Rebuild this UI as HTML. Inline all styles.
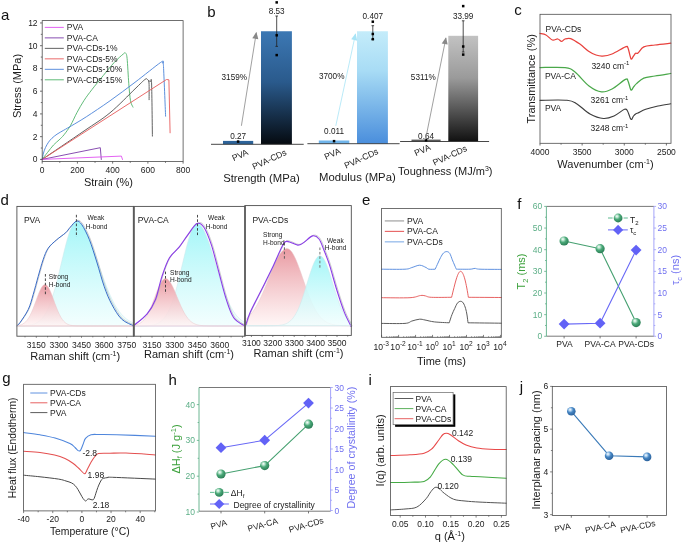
<!DOCTYPE html>
<html><head><meta charset="utf-8"><style>
html,body{margin:0;padding:0;background:#fff;width:685px;height:544px;overflow:hidden}
svg{display:block;will-change:transform}
text{font-family:"Liberation Sans", sans-serif}
</style></head><body>
<svg width="685" height="544" viewBox="0 0 685 544" font-family='"Liberation Sans", sans-serif'>
<rect width="685" height="544" fill="#fff"/>
<text x="1" y="19.5" font-size="15" text-anchor="start" fill="#111">a</text>
<path d="M42.2,159.4 C43.08,158.25 45.62,154.9 47.5,152.5 C49.38,150.1 51.58,147.08 53.5,145 C55.42,142.92 57.25,141.7 59,140 C60.75,138.3 62.08,137.22 64,134.8 C65.92,132.38 68.33,129.22 70.5,125.5 C72.67,121.78 74.75,116.67 77,112.5 C79.25,108.33 81.5,104.33 84,100.5 C86.5,96.67 88.77,93.68 92,89.5 C95.23,85.32 99.73,79.87 103.4,75.4 C107.07,70.93 110.65,66.3 114,62.7 C117.35,59.1 121.57,55.38 123.5,53.8 C125.43,52.22 125,52.42 125.6,53.2 C126.2,53.98 126.57,53.4 127.1,58.5 C127.63,63.6 128.23,76.77 128.8,83.8 C129.37,90.83 129.8,96.82 130.5,100.7 C131.2,104.58 132.58,106.03 133,107.1" fill="none" stroke="#4fb36a" stroke-width="0.9" stroke-linejoin="round" stroke-linecap="round"/>
<path d="M42.2,159.4 C42.42,158.33 42.95,154.98 43.5,153 C44.05,151.02 44.67,149.3 45.5,147.5 C46.33,145.7 47.42,143.75 48.5,142.2 C49.58,140.65 50.58,139.53 52,138.2 C53.42,136.87 55.03,135.53 57,134.2 C58.97,132.87 61.33,131.63 63.8,130.2 C66.27,128.77 68.05,127.83 71.8,125.6 C75.55,123.37 79.93,120.93 86.3,116.8 C92.67,112.67 101.88,106.55 110,100.8 C118.12,95.05 126.55,88.7 135,82.3 C143.45,75.9 156.07,65.58 160.7,62.4 C165.33,59.22 162.33,62.5 162.8,63.2 C163.27,63.9 163.03,57.77 163.5,66.6 C163.97,75.43 165.25,107.93 165.6,116.2" fill="none" stroke="#4a82d8" stroke-width="0.9" stroke-linejoin="round" stroke-linecap="round"/>
<path d="M42.2,159.4 C49.17,154.67 72.7,138.77 84,131 C95.3,123.23 101.5,119.82 110,112.8 C118.5,105.78 129.18,94.45 135,88.9 C140.82,83.35 142.83,81.07 144.9,79.5 C146.97,77.93 146.72,78.92 147.4,79.5 C148.08,80.08 148.72,79.63 149,83 C149.28,86.37 149.08,96.92 149.1,99.7" fill="none" stroke="#505050" stroke-width="0.9" stroke-linejoin="round" stroke-linecap="round"/>
<path d="M148.5,81 C148.83,81.08 149.98,81 150.5,81.5 C151.02,82 151.28,74.9 151.6,84 C151.92,93.1 152.27,127.42 152.4,136.1" fill="none" stroke="#505050" stroke-width="0.9" stroke-linejoin="round" stroke-linecap="round"/>
<path d="M42.2,159.4 L166.5,79.5 L168.9,79.8 L170.1,132.8" fill="none" stroke="#e85a5a" stroke-width="0.9" stroke-linejoin="round" stroke-linecap="round"/>
<path d="M42.2,159.4 L100.3,147.7 L101.3,159.5" fill="none" stroke="#7a3aa8" stroke-width="0.9" stroke-linejoin="round" stroke-linecap="round"/>
<path d="M42.2,159.4 L121.4,156.1 L122.5,159.5" fill="none" stroke="#e050f0" stroke-width="0.9" stroke-linejoin="round" stroke-linecap="round"/>
<line x1="44.8" y1="27.4" x2="63.8" y2="27.4" stroke="#e050f0" stroke-width="0.9"/>
<text x="66.8" y="30.4" font-size="8.5" text-anchor="start" fill="#1a1a1a">PVA</text>
<line x1="44.8" y1="37.88" x2="63.8" y2="37.88" stroke="#7a3aa8" stroke-width="0.9"/>
<text x="66.8" y="40.88" font-size="8.5" text-anchor="start" fill="#1a1a1a">PVA-CA</text>
<line x1="44.8" y1="48.36" x2="63.8" y2="48.36" stroke="#505050" stroke-width="0.9"/>
<text x="66.8" y="51.36" font-size="8.5" text-anchor="start" fill="#1a1a1a">PVA-CDs-1%</text>
<line x1="44.8" y1="58.84" x2="63.8" y2="58.84" stroke="#e85a5a" stroke-width="0.9"/>
<text x="66.8" y="61.84" font-size="8.5" text-anchor="start" fill="#1a1a1a">PVA-CDs-5%</text>
<line x1="44.8" y1="69.32" x2="63.8" y2="69.32" stroke="#4a82d8" stroke-width="0.9"/>
<text x="66.8" y="72.32" font-size="8.5" text-anchor="start" fill="#1a1a1a">PVA-CDs-10%</text>
<line x1="44.8" y1="79.8" x2="63.8" y2="79.8" stroke="#4fb36a" stroke-width="0.9"/>
<text x="66.8" y="82.8" font-size="8.5" text-anchor="start" fill="#1a1a1a">PVA-CDs-15%</text>
<rect x="42.2" y="20.6" width="140.9" height="140.8" fill="none" stroke="#4d4d4d" stroke-width="0.8"/>
<line x1="42.2" y1="161.4" x2="42.2" y2="163.6" stroke="#4d4d4d" stroke-width="0.8"/>
<text x="42.2" y="173.3" font-size="8.5" text-anchor="middle" fill="#1a1a1a">0</text>
<line x1="59.81" y1="161.4" x2="59.81" y2="162.8" stroke="#4d4d4d" stroke-width="0.8"/>
<line x1="77.42" y1="161.4" x2="77.42" y2="163.6" stroke="#4d4d4d" stroke-width="0.8"/>
<text x="77.42" y="173.3" font-size="8.5" text-anchor="middle" fill="#1a1a1a">200</text>
<line x1="95.04" y1="161.4" x2="95.04" y2="162.8" stroke="#4d4d4d" stroke-width="0.8"/>
<line x1="112.65" y1="161.4" x2="112.65" y2="163.6" stroke="#4d4d4d" stroke-width="0.8"/>
<text x="112.65" y="173.3" font-size="8.5" text-anchor="middle" fill="#1a1a1a">400</text>
<line x1="130.26" y1="161.4" x2="130.26" y2="162.8" stroke="#4d4d4d" stroke-width="0.8"/>
<line x1="147.88" y1="161.4" x2="147.88" y2="163.6" stroke="#4d4d4d" stroke-width="0.8"/>
<text x="147.88" y="173.3" font-size="8.5" text-anchor="middle" fill="#1a1a1a">600</text>
<line x1="165.49" y1="161.4" x2="165.49" y2="162.8" stroke="#4d4d4d" stroke-width="0.8"/>
<line x1="183.1" y1="161.4" x2="183.1" y2="163.6" stroke="#4d4d4d" stroke-width="0.8"/>
<text x="183.1" y="173.3" font-size="8.5" text-anchor="middle" fill="#1a1a1a">800</text>
<line x1="42.2" y1="159.4" x2="40" y2="159.4" stroke="#4d4d4d" stroke-width="0.8"/>
<text x="37.6" y="162.4" font-size="8.5" text-anchor="end" fill="#1a1a1a">0</text>
<line x1="42.2" y1="148.03" x2="40.8" y2="148.03" stroke="#4d4d4d" stroke-width="0.8"/>
<line x1="42.2" y1="136.66" x2="40" y2="136.66" stroke="#4d4d4d" stroke-width="0.8"/>
<text x="37.6" y="139.66" font-size="8.5" text-anchor="end" fill="#1a1a1a">2</text>
<line x1="42.2" y1="125.29" x2="40.8" y2="125.29" stroke="#4d4d4d" stroke-width="0.8"/>
<line x1="42.2" y1="113.92" x2="40" y2="113.92" stroke="#4d4d4d" stroke-width="0.8"/>
<text x="37.6" y="116.92" font-size="8.5" text-anchor="end" fill="#1a1a1a">4</text>
<line x1="42.2" y1="102.55" x2="40.8" y2="102.55" stroke="#4d4d4d" stroke-width="0.8"/>
<line x1="42.2" y1="91.18" x2="40" y2="91.18" stroke="#4d4d4d" stroke-width="0.8"/>
<text x="37.6" y="94.18" font-size="8.5" text-anchor="end" fill="#1a1a1a">6</text>
<line x1="42.2" y1="79.81" x2="40.8" y2="79.81" stroke="#4d4d4d" stroke-width="0.8"/>
<line x1="42.2" y1="68.44" x2="40" y2="68.44" stroke="#4d4d4d" stroke-width="0.8"/>
<text x="37.6" y="71.44" font-size="8.5" text-anchor="end" fill="#1a1a1a">8</text>
<line x1="42.2" y1="57.07" x2="40.8" y2="57.07" stroke="#4d4d4d" stroke-width="0.8"/>
<line x1="42.2" y1="45.7" x2="40" y2="45.7" stroke="#4d4d4d" stroke-width="0.8"/>
<text x="37.6" y="48.7" font-size="8.5" text-anchor="end" fill="#1a1a1a">10</text>
<line x1="42.2" y1="34.33" x2="40.8" y2="34.33" stroke="#4d4d4d" stroke-width="0.8"/>
<line x1="42.2" y1="22.96" x2="40" y2="22.96" stroke="#4d4d4d" stroke-width="0.8"/>
<text x="37.6" y="25.96" font-size="8.5" text-anchor="end" fill="#1a1a1a">12</text>
<text x="108.4" y="186" font-size="11" text-anchor="middle" fill="#1a1a1a">Strain (%)</text>
<text x="20.5" y="86" font-size="11" text-anchor="middle" fill="#1a1a1a" transform="rotate(-90 20.5 86)">Stress (MPa)</text>
<text x="207.2" y="16.9" font-size="15" text-anchor="start" fill="#111">b</text>
<defs>
<linearGradient id="gb1" x1="0" y1="0" x2="0" y2="1"><stop offset="0" stop-color="#3c78b4"/><stop offset="0.45" stop-color="#2a5a8c"/><stop offset="1" stop-color="#050a10"/></linearGradient>
<linearGradient id="gb2" x1="0" y1="0" x2="0" y2="1"><stop offset="0" stop-color="#c4ecfa"/><stop offset="0.35" stop-color="#a8dcf5"/><stop offset="1" stop-color="#4a8edc"/></linearGradient>
<linearGradient id="gb3" x1="0" y1="0" x2="0" y2="1"><stop offset="0" stop-color="#c2c2c2"/><stop offset="0.4" stop-color="#9a9a9a"/><stop offset="1" stop-color="#111"/></linearGradient>
<marker id="ah1" viewBox="0 0 10 10" refX="9" refY="5" markerWidth="12.5" markerHeight="8.5" orient="auto"><path d="M0,0.5 L10,5 L0,9.5 z" fill="#888"/></marker>
<marker id="ah2" viewBox="0 0 10 10" refX="9" refY="5" markerWidth="12.5" markerHeight="8.5" orient="auto"><path d="M0,0.5 L10,5 L0,9.5 z" fill="#a8e4f6"/></marker>
</defs>
<rect x="223" y="140.9" width="30.2" height="3.4" fill="#2d6399" stroke="none" stroke-width="1"/>
<rect x="261" y="31.25" width="30.9" height="113.05" fill="url(#gb1)" stroke="none" stroke-width="1"/>
<line x1="211" y1="144.3" x2="303.7" y2="144.3" stroke="#333" stroke-width="0.9"/>
<line x1="276.7" y1="16" x2="276.7" y2="46.4" stroke="#222" stroke-width="0.8"/>
<line x1="275.4" y1="16" x2="278" y2="16" stroke="#222" stroke-width="0.8"/>
<line x1="275.4" y1="46.4" x2="278" y2="46.4" stroke="#222" stroke-width="0.8"/>
<rect x="275.45" y="1.15" width="2.5" height="2.5" fill="#000" stroke="none" stroke-width="1"/>
<rect x="275.45" y="34.05" width="2.5" height="2.5" fill="#000" stroke="none" stroke-width="1"/>
<rect x="275.45" y="53.85" width="2.5" height="2.5" fill="#000" stroke="none" stroke-width="1"/>
<rect x="236.85" y="140.3" width="2.5" height="2.5" fill="#000" stroke="none" stroke-width="1"/>
<text x="276.7" y="14.3" font-size="8.2" text-anchor="middle" fill="#1a1a1a">8.53</text>
<text x="238.1" y="139" font-size="8.2" text-anchor="middle" fill="#1a1a1a">0.27</text>
<text x="234.3" y="80.3" font-size="8.2" text-anchor="middle" fill="#1a1a1a">3159%</text>
<line x1="241.4" y1="125.8" x2="256.3" y2="32.6" stroke="#888" stroke-width="0.8" marker-end="url(#ah1)"/>
<text x="241.27" y="157.82" font-size="8.7" text-anchor="middle" fill="#1a1a1a" transform="rotate(-25 241.27 157.82)">PVA</text>
<text x="270.67" y="162.12" font-size="8.7" text-anchor="middle" fill="#1a1a1a" transform="rotate(-25 270.67 162.12)">PVA-CDs</text>
<text x="261.5" y="182.3" font-size="11.3" text-anchor="middle" fill="#1a1a1a">Strength (MPa)</text>
<rect x="318.8" y="140.5" width="30.5" height="3.2" fill="#6fb4ea" stroke="none" stroke-width="1"/>
<rect x="357" y="31.25" width="30.9" height="112.45" fill="url(#gb2)" stroke="none" stroke-width="1"/>
<line x1="307.4" y1="143.7" x2="399.6" y2="143.7" stroke="#333" stroke-width="0.9"/>
<line x1="372.8" y1="25.7" x2="372.8" y2="39.5" stroke="#222" stroke-width="0.8"/>
<line x1="371.5" y1="25.7" x2="374.1" y2="25.7" stroke="#222" stroke-width="0.8"/>
<line x1="371.5" y1="39.5" x2="374.1" y2="39.5" stroke="#222" stroke-width="0.8"/>
<rect x="371.55" y="20.45" width="2.5" height="2.5" fill="#000" stroke="none" stroke-width="1"/>
<rect x="371.55" y="32.75" width="2.5" height="2.5" fill="#000" stroke="none" stroke-width="1"/>
<rect x="371.55" y="37.95" width="2.5" height="2.5" fill="#000" stroke="none" stroke-width="1"/>
<rect x="332.8" y="139.9" width="2.5" height="2.5" fill="#000" stroke="none" stroke-width="1"/>
<text x="372.8" y="18.9" font-size="8.2" text-anchor="middle" fill="#1a1a1a">0.407</text>
<text x="334.05" y="133.7" font-size="8.2" text-anchor="middle" fill="#1a1a1a">0.011</text>
<text x="331.7" y="79" font-size="8.2" text-anchor="middle" fill="#1a1a1a">3700%</text>
<line x1="335.8" y1="125.8" x2="355.5" y2="34" stroke="#a8e4f6" stroke-width="0.8" marker-end="url(#ah2)"/>
<text x="333.57" y="156.52" font-size="8.7" text-anchor="middle" fill="#1a1a1a" transform="rotate(-25 333.57 156.52)">PVA</text>
<text x="362.47" y="161.12" font-size="8.7" text-anchor="middle" fill="#1a1a1a" transform="rotate(-25 362.47 161.12)">PVA-CDs</text>
<text x="357.4" y="180.6" font-size="11.3" text-anchor="middle" fill="#1a1a1a">Modulus (MPa)</text>
<rect x="411.5" y="139.6" width="29.1" height="1.9" fill="#5a5a5a" stroke="none" stroke-width="1"/>
<rect x="448.3" y="35.8" width="29.8" height="105.7" fill="url(#gb3)" stroke="none" stroke-width="1"/>
<line x1="400.1" y1="141.5" x2="489.1" y2="141.5" stroke="#333" stroke-width="0.9"/>
<line x1="463.2" y1="20.8" x2="463.2" y2="52" stroke="#222" stroke-width="0.8"/>
<line x1="461.9" y1="20.8" x2="464.5" y2="20.8" stroke="#222" stroke-width="0.8"/>
<line x1="461.9" y1="52" x2="464.5" y2="52" stroke="#222" stroke-width="0.8"/>
<rect x="461.95" y="4.85" width="2.5" height="2.5" fill="#000" stroke="none" stroke-width="1"/>
<rect x="461.95" y="45.25" width="2.5" height="2.5" fill="#000" stroke="none" stroke-width="1"/>
<rect x="461.95" y="53.35" width="2.5" height="2.5" fill="#000" stroke="none" stroke-width="1"/>
<rect x="424.8" y="139" width="2.5" height="2.5" fill="#000" stroke="none" stroke-width="1"/>
<text x="463.2" y="19.3" font-size="8.2" text-anchor="middle" fill="#1a1a1a">33.99</text>
<text x="426.05" y="138.7" font-size="8.2" text-anchor="middle" fill="#1a1a1a">0.64</text>
<text x="423.3" y="80.3" font-size="8.2" text-anchor="middle" fill="#1a1a1a">5311%</text>
<line x1="425.5" y1="139.6" x2="445.9" y2="38" stroke="#888" stroke-width="0.8" marker-end="url(#ah1)"/>
<text x="423.57" y="152.82" font-size="8.7" text-anchor="middle" fill="#1a1a1a" transform="rotate(-25 423.57 152.82)">PVA</text>
<text x="451.17" y="158.12" font-size="8.7" text-anchor="middle" fill="#1a1a1a" transform="rotate(-25 451.17 158.12)">PVA-CDs</text>
<text x="445.3" y="175.2" font-size="11" text-anchor="middle" fill="#1a1a1a">Toughness (MJ/m<tspan dy="-4" font-size="7">3</tspan><tspan dy="4">)</tspan></text>
<text x="514.2" y="14.7" font-size="15" text-anchor="start" fill="#111">c</text>
<path d="M540,33.5 C541,33.75 543.95,33.92 546,35 C548.05,36.08 550.33,39.33 552.3,40 C554.27,40.67 556.27,38.77 557.8,39 C559.33,39.23 560.3,41.4 561.5,41.4 C562.7,41.4 563.47,39.47 565,39 C566.53,38.53 568.22,37.75 570.7,38.6 C573.18,39.45 576.85,41.95 579.9,44.1 C582.95,46.25 586.32,49.68 589,51.5 C591.68,53.32 593.75,54.23 596,55 C598.25,55.77 599.83,56.27 602.5,56.1 C605.17,55.93 608.18,55.53 612,54 C615.82,52.47 622.73,47.9 625.4,46.9 C628.07,45.9 627.07,46.02 628,48 C628.93,49.98 630.08,57.47 631,58.8 C631.92,60.13 632.73,56.92 633.5,56 C634.27,55.08 634.85,53.8 635.6,53.3 C636.35,52.8 636.63,54.07 638,53 C639.37,51.93 640.97,48.23 643.8,46.9 C646.63,45.57 650.52,45.62 655,45 C659.48,44.38 668.08,43.5 670.7,43.2" fill="none" stroke="#e8413c" stroke-width="1.25" stroke-linejoin="round" stroke-linecap="round"/>
<path d="M540,67.6 C544.18,67.6 559.27,66.87 565.1,67.6 C570.93,68.33 571.02,68.93 575,72 C578.98,75.07 584.58,82.68 589,86 C593.42,89.32 597.67,91.4 601.5,91.9 C605.33,92.4 608.02,91.08 612,89 C615.98,86.92 622.73,80.73 625.4,79.4 C628.07,78.07 627.07,79.23 628,81 C628.93,82.77 630.08,89 631,90 C631.92,91 632.58,88.07 633.5,87 C634.42,85.93 634.78,85.08 636.5,83.6 C638.22,82.12 640.72,79.37 643.8,78.1 C646.88,76.83 650.52,76.77 655,76 C659.48,75.23 668.08,73.92 670.7,73.5" fill="none" stroke="#4aa84a" stroke-width="1.25" stroke-linejoin="round" stroke-linecap="round"/>
<path d="M540,100.3 C544.5,100.3 560.83,99.68 567,100.3 C573.17,100.92 573.17,101.72 577,104 C580.83,106.28 585.6,111.58 590,114 C594.4,116.42 599.4,118.17 603.4,118.5 C607.4,118.83 610.48,117.53 614,116 C617.52,114.47 622.25,110.13 624.5,109.3 C626.75,108.47 626.42,109.32 627.5,111 C628.58,112.68 630,118.57 631,119.4 C632,120.23 632.73,116.92 633.5,116 C634.27,115.08 634.85,114.4 635.6,113.9 C636.35,113.4 636.32,113.77 638,113 C639.68,112.23 642.37,110.47 645.7,109.3 C649.03,108.13 653.83,106.92 658,106 C662.17,105.08 668.58,104.17 670.7,103.8" fill="none" stroke="#3d3d3d" stroke-width="1.15" stroke-linejoin="round" stroke-linecap="round"/>
<rect x="540" y="14.3" width="131" height="129" fill="none" stroke="#4d4d4d" stroke-width="0.8"/>
<line x1="666.4" y1="143.3" x2="666.4" y2="145.5" stroke="#4d4d4d" stroke-width="0.8"/>
<text x="666.4" y="154.7" font-size="8.5" text-anchor="middle" fill="#1a1a1a">2500</text>
<line x1="645.34" y1="143.3" x2="645.34" y2="144.7" stroke="#4d4d4d" stroke-width="0.8"/>
<line x1="624.27" y1="143.3" x2="624.27" y2="145.5" stroke="#4d4d4d" stroke-width="0.8"/>
<text x="624.27" y="154.7" font-size="8.5" text-anchor="middle" fill="#1a1a1a">3000</text>
<line x1="603.2" y1="143.3" x2="603.2" y2="144.7" stroke="#4d4d4d" stroke-width="0.8"/>
<line x1="582.13" y1="143.3" x2="582.13" y2="145.5" stroke="#4d4d4d" stroke-width="0.8"/>
<text x="582.13" y="154.7" font-size="8.5" text-anchor="middle" fill="#1a1a1a">3500</text>
<line x1="561.07" y1="143.3" x2="561.07" y2="144.7" stroke="#4d4d4d" stroke-width="0.8"/>
<line x1="540" y1="143.3" x2="540" y2="145.5" stroke="#4d4d4d" stroke-width="0.8"/>
<text x="540" y="154.7" font-size="8.5" text-anchor="middle" fill="#1a1a1a">4000</text>
<text x="545.6" y="32" font-size="8.5" text-anchor="start" fill="#1a1a1a">PVA-CDs</text>
<text x="544.9" y="79.2" font-size="8.5" text-anchor="start" fill="#1a1a1a">PVA-CA</text>
<text x="544.9" y="111" font-size="8.5" text-anchor="start" fill="#1a1a1a">PVA</text>
<text x="591.4" y="68.8" font-size="8.5" text-anchor="start" fill="#1a1a1a">3240 cm<tspan dy="-3.5" font-size="6">-1</tspan></text>
<text x="590.5" y="103" font-size="8.5" text-anchor="start" fill="#1a1a1a">3261 cm<tspan dy="-3.5" font-size="6">-1</tspan></text>
<text x="590.5" y="131.3" font-size="8.5" text-anchor="start" fill="#1a1a1a">3248 cm<tspan dy="-3.5" font-size="6">-1</tspan></text>
<text x="605.5" y="168" font-size="11" text-anchor="middle" fill="#1a1a1a">Wavenumber (cm<tspan dy="-4" font-size="7">-1</tspan><tspan dy="4">)</tspan></text>
<text x="534.6" y="78.8" font-size="11" text-anchor="middle" fill="#1a1a1a" transform="rotate(-90 534.6 78.8)">Transmittance (%)</text>
<text x="0.5" y="205.1" font-size="15" text-anchor="start" fill="#111">d</text>
<defs>
<linearGradient id="gr" x1="0" y1="0" x2="0" y2="1"><stop offset="0" stop-color="#e99aa2"/><stop offset="1" stop-color="#fff4f4" stop-opacity="0.8"/></linearGradient>
<linearGradient id="gc" x1="0" y1="0" x2="0" y2="1"><stop offset="0" stop-color="#a4f6f8"/><stop offset="1" stop-color="#f0fefe" stop-opacity="0.8"/></linearGradient>
</defs>
<path d="M17,325.96 L18.46,325.94 L19.92,325.91 L21.38,325.88 L22.84,325.83 L24.29,325.75 L25.75,325.66 L27.21,325.53 L28.67,325.35 L30.13,325.12 L31.59,324.82 L33.05,324.42 L34.5,323.92 L35.96,323.28 L37.42,322.48 L38.88,321.49 L40.34,320.27 L41.8,318.79 L43.26,317.02 L44.72,314.91 L46.17,312.43 L47.63,309.57 L49.09,306.28 L50.55,302.55 L52.01,298.39 L53.47,293.79 L54.93,288.78 L56.39,283.39 L57.84,277.68 L59.3,271.73 L60.76,265.62 L62.22,259.45 L63.68,253.33 L65.14,247.41 L66.6,241.8 L68.06,236.64 L69.52,232.06 L70.97,228.17 L72.43,225.08 L73.89,222.87 L75.35,221.61 L76.81,221.31 L78.27,221.65 L79.73,222.47 L81.18,223.76 L82.64,225.49 L84.1,227.65 L85.56,230.2 L87.02,233.11 L88.48,236.35 L89.94,239.88 L91.4,243.64 L92.85,247.6 L94.31,251.72 L95.77,255.94 L97.23,260.23 L98.69,264.53 L100.15,268.82 L101.61,273.06 L103.07,277.2 L104.52,281.23 L105.98,285.11 L107.44,288.83 L108.9,292.37 L110.36,295.71 L111.82,298.84 L113.28,301.76 L114.74,304.46 L116.19,306.96 L117.65,309.24 L119.11,311.31 L120.57,313.19 L122.03,314.88 L123.49,316.39 L124.95,317.73 L126.41,318.92 L127.86,319.97 L129.32,320.88 L130.78,321.68 L132.24,322.37 L133.7,322.96 L133.7,326 L17,326 Z" fill="url(#gc)" stroke="#c8e6ea" stroke-width="0.5"/>
<path d="M17,325.67 L18.46,325.46 L19.92,325.15 L21.38,324.68 L22.84,324 L24.29,323.06 L25.75,321.78 L27.21,320.12 L28.67,318 L30.13,315.4 L31.59,312.33 L33.05,308.82 L34.5,304.97 L35.96,300.93 L37.42,296.88 L38.88,293.06 L40.34,289.71 L41.8,287.04 L43.26,285.27 L44.72,284.52 L46.17,284.85 L47.63,286.24 L49.09,288.58 L50.55,291.69 L52.01,295.36 L53.47,299.34 L54.93,303.41 L56.39,307.36 L57.84,311.01 L59.3,314.26 L60.76,317.05 L62.22,319.35 L63.68,321.19 L65.14,322.61 L66.6,323.67 L68.06,324.44 L69.52,324.98 L70.97,325.36 L72.43,325.6 L73.89,325.76 L75.35,325.86 L76.81,325.92 L78.27,325.96 L79.73,325.98 L81.18,325.99 L82.64,325.99 L84.1,326 L85.56,326 L87.02,326 L88.48,326 L89.94,326 L91.4,326 L92.85,326 L94.31,326 L95.77,326 L97.23,326 L98.69,326 L100.15,326 L101.61,326 L103.07,326 L104.52,326 L105.98,326 L107.44,326 L108.9,326 L110.36,326 L111.82,326 L113.28,326 L114.74,326 L116.19,326 L117.65,326 L119.11,326 L120.57,326 L122.03,326 L123.49,326 L124.95,326 L126.41,326 L127.86,326 L129.32,326 L130.78,326 L132.24,326 L133.7,326 L133.7,326 L17,326 Z" fill="url(#gr)" stroke="#e8c4c8" stroke-width="0.5"/>
<path d="M17,325.6 C17.5,325.1 18.12,325.3 20,322.6 C21.88,319.9 26.1,314.08 28.3,309.4 C30.5,304.72 31.55,300 33.2,294.5 C34.85,289 36.55,282.18 38.2,276.4 C39.85,270.62 41.45,264.48 43.1,259.8 C44.75,255.12 45.88,251.6 48.1,248.3 C50.32,245 53.48,242.58 56.4,240 C59.32,237.42 63.33,234.88 65.6,232.8 C67.87,230.72 68.18,229.45 70,227.5 C71.82,225.55 74.52,221.55 76.5,221.1 C78.48,220.65 79.75,221.7 81.9,224.8 C84.05,227.9 86.92,233.5 89.4,239.7 C91.88,245.9 94.32,254.15 96.8,262 C99.28,269.85 101.82,279.77 104.3,286.8 C106.78,293.83 108.82,298.82 111.7,304.2 C114.58,309.58 117.88,315.47 121.6,319.1 C125.32,322.73 131.93,324.85 134,326" fill="none" stroke="#b8b8b8" stroke-width="0.7" stroke-linejoin="round" stroke-linecap="round" transform="translate(0.9,-0.7)"/>
<path d="M17,325.6 C17.5,325.1 18.12,325.3 20,322.6 C21.88,319.9 26.1,314.08 28.3,309.4 C30.5,304.72 31.55,300 33.2,294.5 C34.85,289 36.55,282.18 38.2,276.4 C39.85,270.62 41.45,264.48 43.1,259.8 C44.75,255.12 45.88,251.6 48.1,248.3 C50.32,245 53.48,242.58 56.4,240 C59.32,237.42 63.33,234.88 65.6,232.8 C67.87,230.72 68.18,229.45 70,227.5 C71.82,225.55 74.52,221.55 76.5,221.1 C78.48,220.65 79.75,221.7 81.9,224.8 C84.05,227.9 86.92,233.5 89.4,239.7 C91.88,245.9 94.32,254.15 96.8,262 C99.28,269.85 101.82,279.77 104.3,286.8 C106.78,293.83 108.82,298.82 111.7,304.2 C114.58,309.58 117.88,315.47 121.6,319.1 C125.32,322.73 131.93,324.85 134,326" fill="none" stroke="#3a6cc8" stroke-width="1" stroke-linejoin="round" stroke-linecap="round"/>
<line x1="17" y1="326" x2="133.7" y2="326" stroke="#e8c8cc" stroke-width="0.6"/>
<line x1="76.4" y1="214.8" x2="76.4" y2="236.9" stroke="#333" stroke-width="0.9" stroke-dasharray="2.6,1.8"/>
<line x1="45.4" y1="274" x2="45.4" y2="296" stroke="#333" stroke-width="0.9" stroke-dasharray="2.6,1.8"/>
<text x="23.9" y="222.8" font-size="8.5" text-anchor="start" fill="#1a1a1a">PVA</text>
<text x="87.5" y="220.2" font-size="6.6" text-anchor="start" fill="#1a1a1a">Weak</text>
<text x="85.8" y="229" font-size="6.6" text-anchor="start" fill="#1a1a1a">H-bond</text>
<text x="48.8" y="278.6" font-size="6.6" text-anchor="start" fill="#1a1a1a">Strong</text>
<text x="48.8" y="286.9" font-size="6.6" text-anchor="start" fill="#1a1a1a">H-bond</text>
<path d="M134,325.99 L135.39,325.99 L136.78,325.98 L138.16,325.97 L139.55,325.96 L140.94,325.94 L142.32,325.92 L143.71,325.88 L145.1,325.83 L146.49,325.76 L147.88,325.67 L149.26,325.55 L150.65,325.38 L152.04,325.16 L153.43,324.88 L154.81,324.51 L156.2,324.05 L157.59,323.45 L158.97,322.71 L160.36,321.79 L161.75,320.67 L163.14,319.3 L164.53,317.66 L165.91,315.72 L167.3,313.43 L168.69,310.78 L170.07,307.74 L171.46,304.29 L172.85,300.42 L174.24,296.13 L175.62,291.45 L177.01,286.4 L178.4,281.02 L179.79,275.38 L181.18,269.55 L182.56,263.62 L183.95,257.7 L185.34,251.9 L186.72,246.34 L188.11,241.14 L189.5,236.42 L190.89,232.31 L192.28,228.89 L193.66,226.28 L195.05,224.52 L196.44,223.68 L197.82,223.7 L199.21,224.33 L200.6,225.52 L201.99,227.25 L203.38,229.5 L204.76,232.23 L206.15,235.39 L207.54,238.93 L208.93,242.81 L210.31,246.96 L211.7,251.32 L213.09,255.84 L214.47,260.45 L215.86,265.11 L217.25,269.75 L218.64,274.33 L220.03,278.8 L221.41,283.13 L222.8,287.28 L224.19,291.22 L225.57,294.94 L226.96,298.41 L228.35,301.64 L229.74,304.61 L231.12,307.32 L232.51,309.78 L233.9,311.99 L235.29,313.97 L236.68,315.73 L238.06,317.28 L239.45,318.64 L240.84,319.82 L242.22,320.84 L243.61,321.72 L245,322.46 L245,326 L134,326 Z" fill="url(#gc)" stroke="#c8e6ea" stroke-width="0.5"/>
<path d="M134,325.38 L135.39,325.09 L136.78,324.71 L138.16,324.18 L139.55,323.49 L140.94,322.59 L142.32,321.45 L143.71,320.02 L145.1,318.28 L146.49,316.2 L147.88,313.77 L149.26,310.98 L150.65,307.87 L152.04,304.47 L153.43,300.87 L154.81,297.16 L156.2,293.44 L157.59,289.86 L158.97,286.56 L160.36,283.67 L161.75,281.33 L163.14,279.64 L164.53,278.7 L165.91,278.53 L167.3,279.06 L168.69,280.23 L170.07,282 L171.46,284.28 L172.85,287.01 L174.24,290.06 L175.62,293.34 L177.01,296.73 L178.4,300.13 L179.79,303.46 L181.18,306.64 L182.56,309.6 L183.95,312.3 L185.34,314.72 L186.72,316.84 L188.11,318.66 L189.5,320.21 L190.89,321.49 L192.28,322.54 L193.66,323.38 L195.05,324.04 L196.44,324.56 L197.82,324.95 L199.21,325.25 L200.6,325.47 L201.99,325.63 L203.38,325.75 L204.76,325.83 L206.15,325.89 L207.54,325.93 L208.93,325.95 L210.31,325.97 L211.7,325.98 L213.09,325.99 L214.47,325.99 L215.86,326 L217.25,326 L218.64,326 L220.03,326 L221.41,326 L222.8,326 L224.19,326 L225.57,326 L226.96,326 L228.35,326 L229.74,326 L231.12,326 L232.51,326 L233.9,326 L235.29,326 L236.68,326 L238.06,326 L239.45,326 L240.84,326 L242.22,326 L243.61,326 L245,326 L245,326 L134,326 Z" fill="url(#gr)" stroke="#e8c4c8" stroke-width="0.5"/>
<path d="M133.2,326 C135.48,324.02 143.17,318.57 146.9,314.1 C150.63,309.63 153.12,305.4 155.6,299.2 C158.08,293 159.53,283.72 161.8,276.9 C164.07,270.08 166.32,263.25 169.2,258.3 C172.08,253.35 176,251.12 179.1,247.2 C182.2,243.28 184.82,238.73 187.8,234.8 C190.78,230.87 194.32,224.85 197,223.6 C199.68,222.35 201.52,223.78 203.9,227.3 C206.28,230.82 208.82,237.25 211.3,244.7 C213.78,252.15 216.32,262.92 218.8,272 C221.28,281.08 223.72,291.57 226.2,299.2 C228.68,306.83 230.6,313.33 233.7,317.8 C236.8,322.27 242.95,324.63 244.8,326" fill="none" stroke="#b8b8b8" stroke-width="0.7" stroke-linejoin="round" stroke-linecap="round" transform="translate(0.9,-0.7)"/>
<path d="M133.2,326 C135.48,324.02 143.17,318.57 146.9,314.1 C150.63,309.63 153.12,305.4 155.6,299.2 C158.08,293 159.53,283.72 161.8,276.9 C164.07,270.08 166.32,263.25 169.2,258.3 C172.08,253.35 176,251.12 179.1,247.2 C182.2,243.28 184.82,238.73 187.8,234.8 C190.78,230.87 194.32,224.85 197,223.6 C199.68,222.35 201.52,223.78 203.9,227.3 C206.28,230.82 208.82,237.25 211.3,244.7 C213.78,252.15 216.32,262.92 218.8,272 C221.28,281.08 223.72,291.57 226.2,299.2 C228.68,306.83 230.6,313.33 233.7,317.8 C236.8,322.27 242.95,324.63 244.8,326" fill="none" stroke="#8a3ce8" stroke-width="1.1" stroke-linejoin="round" stroke-linecap="round"/>
<line x1="134" y1="326" x2="245" y2="326" stroke="#e0d0e8" stroke-width="0.6"/>
<line x1="197.5" y1="214.9" x2="197.5" y2="236.9" stroke="#333" stroke-width="0.9" stroke-dasharray="2.6,1.8"/>
<line x1="165.5" y1="271.6" x2="165.5" y2="293.7" stroke="#333" stroke-width="0.9" stroke-dasharray="2.6,1.8"/>
<text x="137.7" y="222.8" font-size="8.5" text-anchor="start" fill="#1a1a1a">PVA-CA</text>
<text x="208.1" y="220.4" font-size="6.6" text-anchor="start" fill="#1a1a1a">Weak</text>
<text x="205.7" y="228.5" font-size="6.6" text-anchor="start" fill="#1a1a1a">H-bond</text>
<text x="170" y="274.6" font-size="6.6" text-anchor="start" fill="#1a1a1a">Strong</text>
<text x="170" y="282.3" font-size="6.6" text-anchor="start" fill="#1a1a1a">H-bond</text>
<path d="M245.5,319.56 L246.82,318.5 L248.15,317.29 L249.47,315.93 L250.8,314.42 L252.12,312.74 L253.45,310.89 L254.78,308.87 L256.1,306.67 L257.43,304.29 L258.75,301.74 L260.07,299.03 L261.4,296.16 L262.73,293.16 L264.05,290.04 L265.38,286.81 L266.7,283.52 L268.02,280.18 L269.35,276.83 L270.68,273.5 L272,270.23 L273.32,267.06 L274.65,264.02 L275.98,261.16 L277.3,258.51 L278.62,256.12 L279.95,254.01 L281.27,252.21 L282.6,250.75 L283.93,249.66 L285.25,248.94 L286.57,248.62 L287.9,248.72 L289.23,249.34 L290.55,250.48 L291.88,252.1 L293.2,254.18 L294.52,256.68 L295.85,259.55 L297.18,262.73 L298.5,266.17 L299.82,269.81 L301.15,273.59 L302.48,277.44 L303.8,281.32 L305.12,285.16 L306.45,288.93 L307.77,292.57 L309.1,296.06 L310.43,299.37 L311.75,302.46 L313.07,305.34 L314.4,307.98 L315.73,310.39 L317.05,312.57 L318.38,314.51 L319.7,316.24 L321.02,317.75 L322.35,319.08 L323.68,320.22 L325,321.2 L326.32,322.03 L327.65,322.74 L328.98,323.33 L330.3,323.82 L331.62,324.22 L332.95,324.55 L334.27,324.82 L335.6,325.03 L336.93,325.21 L338.25,325.34 L339.57,325.45 L340.9,325.53 L342.23,325.6 L343.55,325.65 L344.88,325.69 L346.2,325.72 L347.52,325.74 L348.85,325.76 L350.18,325.77 L351.5,325.78 L351.5,325.8 L245.5,325.8 Z" fill="url(#gr)" stroke="#e8c4c8" stroke-width="0.5"/>
<path d="M245.5,325.8 L246.82,325.8 L248.15,325.8 L249.47,325.8 L250.8,325.8 L252.12,325.8 L253.45,325.8 L254.78,325.8 L256.1,325.8 L257.43,325.8 L258.75,325.8 L260.07,325.8 L261.4,325.8 L262.73,325.8 L264.05,325.79 L265.38,325.79 L266.7,325.79 L268.02,325.78 L269.35,325.77 L270.68,325.76 L272,325.74 L273.32,325.71 L274.65,325.66 L275.98,325.61 L277.3,325.52 L278.62,325.41 L279.95,325.26 L281.27,325.06 L282.6,324.8 L283.93,324.45 L285.25,324.01 L286.57,323.44 L287.9,322.72 L289.23,321.84 L290.55,320.75 L291.88,319.43 L293.2,317.85 L294.52,315.99 L295.85,313.82 L297.18,311.32 L298.5,308.5 L299.82,305.34 L301.15,301.86 L302.48,298.09 L303.8,294.06 L305.12,289.84 L306.45,285.5 L307.77,281.11 L309.1,276.76 L310.43,272.58 L311.75,268.64 L313.07,265.08 L314.4,261.97 L315.73,259.43 L317.05,257.51 L318.38,256.3 L319.7,255.81 L321.02,256.07 L322.35,257.07 L323.68,258.78 L325,261.14 L326.32,264.09 L327.65,267.52 L328.98,271.36 L330.3,275.48 L331.62,279.79 L332.95,284.17 L334.27,288.54 L335.6,292.81 L336.93,296.9 L338.25,300.75 L339.57,304.32 L340.9,307.58 L342.23,310.51 L343.55,313.1 L344.88,315.37 L346.2,317.32 L347.52,318.98 L348.85,320.38 L350.18,321.53 L351.5,322.48 L351.5,325.8 L245.5,325.8 Z" fill="url(#gc)" stroke="#c8e6ea" stroke-width="0.5"/>
<path d="M245.5,326 C246.25,323.78 247.42,318.58 250,312.7 C252.58,306.82 257.33,298.05 261,290.7 C264.67,283.35 268.78,275.35 272,268.6 C275.22,261.85 278.15,254.63 280.3,250.2 C282.45,245.77 283.37,243.37 284.9,242 C286.43,240.63 287.35,241.48 289.5,242 C291.65,242.52 295.5,244.95 297.8,245.1 C300.1,245.25 300.85,244.43 303.3,242.9 C305.75,241.37 309.88,236.55 312.5,235.9 C315.12,235.25 317.1,236.65 319,239 C320.9,241.35 322.17,245.72 323.9,250 C325.63,254.28 327.25,258.03 329.4,264.7 C331.55,271.37 334.35,282.18 336.8,290 C339.25,297.82 341.72,305.52 344.1,311.6 C346.48,317.68 349.93,324.02 351.1,326.5" fill="none" stroke="#b8b8b8" stroke-width="0.7" stroke-linejoin="round" stroke-linecap="round" transform="translate(0.9,-0.7)"/>
<path d="M245.5,326 C246.25,323.78 247.42,318.58 250,312.7 C252.58,306.82 257.33,298.05 261,290.7 C264.67,283.35 268.78,275.35 272,268.6 C275.22,261.85 278.15,254.63 280.3,250.2 C282.45,245.77 283.37,243.37 284.9,242 C286.43,240.63 287.35,241.48 289.5,242 C291.65,242.52 295.5,244.95 297.8,245.1 C300.1,245.25 300.85,244.43 303.3,242.9 C305.75,241.37 309.88,236.55 312.5,235.9 C315.12,235.25 317.1,236.65 319,239 C320.9,241.35 322.17,245.72 323.9,250 C325.63,254.28 327.25,258.03 329.4,264.7 C331.55,271.37 334.35,282.18 336.8,290 C339.25,297.82 341.72,305.52 344.1,311.6 C346.48,317.68 349.93,324.02 351.1,326.5" fill="none" stroke="#8a3ce8" stroke-width="1.1" stroke-linejoin="round" stroke-linecap="round"/>
<line x1="245.5" y1="325.5" x2="351.5" y2="325.5" stroke="#d8eef0" stroke-width="0.6"/>
<line x1="284.4" y1="242.9" x2="284.4" y2="260.3" stroke="#555" stroke-width="0.9" stroke-dasharray="2.6,1.8"/>
<line x1="319.9" y1="247.5" x2="319.9" y2="267.7" stroke="#777" stroke-width="1" stroke-dasharray="2.6,1.8"/>
<text x="252.4" y="222.8" font-size="8.5" text-anchor="start" fill="#1a1a1a">PVA-CDs</text>
<text x="263" y="236.9" font-size="6.6" text-anchor="start" fill="#1a1a1a">Strong</text>
<text x="263" y="244.6" font-size="6.6" text-anchor="start" fill="#1a1a1a">H-bond</text>
<text x="327" y="242.7" font-size="6.6" text-anchor="start" fill="#1a1a1a">Weak</text>
<text x="324.8" y="250.4" font-size="6.6" text-anchor="start" fill="#1a1a1a">H-bond</text>
<rect x="16.9" y="206.4" width="116.8" height="129.8" fill="none" stroke="#4d4d4d" stroke-width="0.9"/>
<rect x="133.7" y="206.4" width="111.3" height="129.8" fill="none" stroke="#4d4d4d" stroke-width="0.9"/>
<rect x="245" y="205.6" width="106.3" height="129.8" fill="none" stroke="#4d4d4d" stroke-width="0.9"/>
<line x1="133.8" y1="206.4" x2="133.8" y2="336.2" stroke="#5a5a5a" stroke-width="1.9"/>
<line x1="245" y1="205.6" x2="245" y2="336.2" stroke="#5a5a5a" stroke-width="1.3"/>
<line x1="25" y1="336.2" x2="25" y2="337.4" stroke="#4d4d4d" stroke-width="0.7"/>
<line x1="36.3" y1="336.2" x2="36.3" y2="337.8" stroke="#4d4d4d" stroke-width="0.7"/>
<line x1="47.6" y1="336.2" x2="47.6" y2="337.4" stroke="#4d4d4d" stroke-width="0.7"/>
<line x1="58.9" y1="336.2" x2="58.9" y2="337.8" stroke="#4d4d4d" stroke-width="0.7"/>
<line x1="70.2" y1="336.2" x2="70.2" y2="337.4" stroke="#4d4d4d" stroke-width="0.7"/>
<line x1="81.5" y1="336.2" x2="81.5" y2="337.8" stroke="#4d4d4d" stroke-width="0.7"/>
<line x1="92.8" y1="336.2" x2="92.8" y2="337.4" stroke="#4d4d4d" stroke-width="0.7"/>
<line x1="104.1" y1="336.2" x2="104.1" y2="337.8" stroke="#4d4d4d" stroke-width="0.7"/>
<line x1="115.4" y1="336.2" x2="115.4" y2="337.4" stroke="#4d4d4d" stroke-width="0.7"/>
<line x1="126.7" y1="336.2" x2="126.7" y2="337.8" stroke="#4d4d4d" stroke-width="0.7"/>
<line x1="140.7" y1="336.2" x2="140.7" y2="337.4" stroke="#4d4d4d" stroke-width="0.7"/>
<line x1="152" y1="336.2" x2="152" y2="337.8" stroke="#4d4d4d" stroke-width="0.7"/>
<line x1="163.3" y1="336.2" x2="163.3" y2="337.4" stroke="#4d4d4d" stroke-width="0.7"/>
<line x1="174.6" y1="336.2" x2="174.6" y2="337.8" stroke="#4d4d4d" stroke-width="0.7"/>
<line x1="185.9" y1="336.2" x2="185.9" y2="337.4" stroke="#4d4d4d" stroke-width="0.7"/>
<line x1="197.2" y1="336.2" x2="197.2" y2="337.8" stroke="#4d4d4d" stroke-width="0.7"/>
<line x1="208.5" y1="336.2" x2="208.5" y2="337.4" stroke="#4d4d4d" stroke-width="0.7"/>
<line x1="219.8" y1="336.2" x2="219.8" y2="337.8" stroke="#4d4d4d" stroke-width="0.7"/>
<line x1="231.1" y1="336.2" x2="231.1" y2="337.4" stroke="#4d4d4d" stroke-width="0.7"/>
<line x1="242.4" y1="336.2" x2="242.4" y2="337.8" stroke="#4d4d4d" stroke-width="0.7"/>
<text x="36.3" y="348.1" font-size="8.5" text-anchor="middle" fill="#1a1a1a">3150</text>
<text x="58.9" y="348.1" font-size="8.5" text-anchor="middle" fill="#1a1a1a">3300</text>
<text x="81.5" y="348.1" font-size="8.5" text-anchor="middle" fill="#1a1a1a">3450</text>
<text x="104.1" y="348.1" font-size="8.5" text-anchor="middle" fill="#1a1a1a">3600</text>
<text x="126.7" y="348.1" font-size="8.5" text-anchor="middle" fill="#1a1a1a">3750</text>
<text x="152" y="348.1" font-size="8.5" text-anchor="middle" fill="#1a1a1a">3150</text>
<text x="174.6" y="348.1" font-size="8.5" text-anchor="middle" fill="#1a1a1a">3300</text>
<text x="197.2" y="348.1" font-size="8.5" text-anchor="middle" fill="#1a1a1a">3450</text>
<text x="219.8" y="348.1" font-size="8.5" text-anchor="middle" fill="#1a1a1a">3600</text>
<line x1="251.4" y1="335.4" x2="251.4" y2="337" stroke="#4d4d4d" stroke-width="0.7"/>
<line x1="262.1" y1="335.4" x2="262.1" y2="336.6" stroke="#4d4d4d" stroke-width="0.7"/>
<line x1="272.8" y1="335.4" x2="272.8" y2="337" stroke="#4d4d4d" stroke-width="0.7"/>
<line x1="283.5" y1="335.4" x2="283.5" y2="336.6" stroke="#4d4d4d" stroke-width="0.7"/>
<line x1="294.2" y1="335.4" x2="294.2" y2="337" stroke="#4d4d4d" stroke-width="0.7"/>
<line x1="304.9" y1="335.4" x2="304.9" y2="336.6" stroke="#4d4d4d" stroke-width="0.7"/>
<line x1="315.6" y1="335.4" x2="315.6" y2="337" stroke="#4d4d4d" stroke-width="0.7"/>
<line x1="326.3" y1="335.4" x2="326.3" y2="336.6" stroke="#4d4d4d" stroke-width="0.7"/>
<line x1="337" y1="335.4" x2="337" y2="337" stroke="#4d4d4d" stroke-width="0.7"/>
<line x1="347.7" y1="335.4" x2="347.7" y2="336.6" stroke="#4d4d4d" stroke-width="0.7"/>
<text x="251.4" y="346.4" font-size="8.5" text-anchor="middle" fill="#1a1a1a">3100</text>
<text x="272.8" y="346.4" font-size="8.5" text-anchor="middle" fill="#1a1a1a">3200</text>
<text x="294.2" y="346.4" font-size="8.5" text-anchor="middle" fill="#1a1a1a">3300</text>
<text x="315.6" y="346.4" font-size="8.5" text-anchor="middle" fill="#1a1a1a">3400</text>
<text x="337" y="346.4" font-size="8.5" text-anchor="middle" fill="#1a1a1a">3500</text>
<text x="75.2" y="360.4" font-size="11" text-anchor="middle" fill="#1a1a1a">Raman shift (cm<tspan dy="-4" font-size="7">-1</tspan><tspan dy="4">)</tspan></text>
<text x="189" y="357.9" font-size="11" text-anchor="middle" fill="#1a1a1a">Raman shift (cm<tspan dy="-4" font-size="7">-1</tspan><tspan dy="4">)</tspan></text>
<text x="298.5" y="356.9" font-size="11" text-anchor="middle" fill="#1a1a1a">Raman shift (cm<tspan dy="-4" font-size="7">-1</tspan><tspan dy="4">)</tspan></text>
<text x="362" y="205.1" font-size="15" text-anchor="start" fill="#111">e</text>
<path d="M381.6,269.2 C385.5,269.2 399.93,269.48 405,269.2 C410.07,268.92 409.55,268.17 412,267.5 C414.45,266.83 417.37,265.2 419.7,265.2 C422.03,265.2 424.47,266.83 426,267.5 C427.53,268.17 427.37,268.92 428.9,269.2 C430.43,269.48 434.15,269.2 435.2,269.2 L435.2,269.2 C435.67,268.17 437.1,264.95 438,263 C438.9,261.05 439.68,259.17 440.6,257.5 C441.52,255.83 442.45,253.98 443.5,253 C444.55,252.02 445.85,251.52 446.9,251.6 C447.95,251.68 448.9,252.13 449.8,253.5 C450.7,254.87 451.52,257.88 452.3,259.8 C453.08,261.72 453.83,263.43 454.5,265 C455.17,266.57 456,268.5 456.3,269.2 L456.3,269.2 C458.58,269.2 466.88,269.33 470,269.2 C473.12,269.07 473.33,268.4 475,268.4 C476.67,268.4 475.62,269.03 480,269.2 C484.38,269.37 497.75,269.37 501.3,269.4" fill="none" stroke="#4f86dc" stroke-width="0.9" stroke-linejoin="round" stroke-linecap="round"/>
<path d="M381.6,297.7 C386.33,297.7 403.52,298.07 410,297.7 C416.48,297.33 418,295.82 420.5,295.5 C423,295.18 423.2,295.5 425,295.8 C426.8,296.1 426.87,297.05 431.3,297.3 C435.73,297.55 448.22,297.3 451.6,297.3 L451.6,297.3 C452,295.67 453.22,290.55 454,287.5 C454.78,284.45 455.55,281.37 456.3,279 C457.05,276.63 457.78,274.58 458.5,273.3 C459.22,272.02 459.9,271.3 460.6,271.3 C461.3,271.3 462,272.02 462.7,273.3 C463.4,274.58 464.12,276.55 464.8,279 C465.48,281.45 466.2,284.95 466.8,288 C467.4,291.05 468.13,295.75 468.4,297.3 L468.4,297.3 C473.88,297.33 495.82,297.47 501.3,297.5" fill="none" stroke="#e45050" stroke-width="0.9" stroke-linejoin="round" stroke-linecap="round"/>
<path d="M381.6,323.4 C385.5,323.4 399.93,323.8 405,323.4 C410.07,323 409.57,321.7 412,321 C414.43,320.3 417.43,319.37 419.6,319.2 C421.77,319.03 422.53,319.55 425,320 C427.47,320.45 430.37,321.43 434.4,321.9 C438.43,322.37 446.73,322.65 449.2,322.8 L449.2,322.8 C449.67,321.42 451.08,316.88 452,314.5 C452.92,312.12 453.78,310.42 454.7,308.5 C455.62,306.58 456.52,304.2 457.5,303 C458.48,301.8 459.63,301.3 460.6,301.3 C461.57,301.3 462.47,301.8 463.3,303 C464.13,304.2 464.98,306.5 465.6,308.5 C466.22,310.5 466.6,312.62 467,315 C467.4,317.38 467.83,321.5 468,322.8 L468,322.8 C473.55,322.87 495.75,323.13 501.3,323.2" fill="none" stroke="#4a4a4a" stroke-width="0.9" stroke-linejoin="round" stroke-linecap="round"/>
<line x1="384.8" y1="220.9" x2="404.1" y2="220.9" stroke="#b4b4b4" stroke-width="1.5"/>
<text x="406.9" y="224" font-size="8.5" text-anchor="start" fill="#1a1a1a">PVA</text>
<line x1="384.8" y1="231.35" x2="404.1" y2="231.35" stroke="#e45050" stroke-width="1"/>
<text x="406.9" y="234.45" font-size="8.5" text-anchor="start" fill="#1a1a1a">PVA-CA</text>
<line x1="384.8" y1="241.8" x2="404.1" y2="241.8" stroke="#a4c4ee" stroke-width="1.5"/>
<text x="406.9" y="244.9" font-size="8.5" text-anchor="start" fill="#1a1a1a">PVA-CDs</text>
<rect x="381.6" y="208.4" width="119.7" height="128.9" fill="none" stroke="#4d4d4d" stroke-width="0.8"/>
<line x1="381.6" y1="337.3" x2="381.6" y2="334.9" stroke="#4d4d4d" stroke-width="0.7"/>
<line x1="386.71" y1="337.3" x2="386.71" y2="336" stroke="#4d4d4d" stroke-width="0.5"/>
<line x1="389.7" y1="337.3" x2="389.7" y2="336" stroke="#4d4d4d" stroke-width="0.5"/>
<line x1="391.82" y1="337.3" x2="391.82" y2="336" stroke="#4d4d4d" stroke-width="0.5"/>
<line x1="393.47" y1="337.3" x2="393.47" y2="336" stroke="#4d4d4d" stroke-width="0.5"/>
<line x1="394.81" y1="337.3" x2="394.81" y2="336" stroke="#4d4d4d" stroke-width="0.5"/>
<line x1="395.95" y1="337.3" x2="395.95" y2="336" stroke="#4d4d4d" stroke-width="0.5"/>
<line x1="396.93" y1="337.3" x2="396.93" y2="336" stroke="#4d4d4d" stroke-width="0.5"/>
<line x1="397.8" y1="337.3" x2="397.8" y2="336" stroke="#4d4d4d" stroke-width="0.5"/>
<text x="381.1" y="349.6" font-size="8.6" text-anchor="middle" fill="#1a1a1a">10<tspan dy="-3.8" font-size="6.6">-3</tspan></text>
<line x1="398.58" y1="337.3" x2="398.58" y2="334.9" stroke="#4d4d4d" stroke-width="0.7"/>
<line x1="403.69" y1="337.3" x2="403.69" y2="336" stroke="#4d4d4d" stroke-width="0.5"/>
<line x1="406.68" y1="337.3" x2="406.68" y2="336" stroke="#4d4d4d" stroke-width="0.5"/>
<line x1="408.8" y1="337.3" x2="408.8" y2="336" stroke="#4d4d4d" stroke-width="0.5"/>
<line x1="410.45" y1="337.3" x2="410.45" y2="336" stroke="#4d4d4d" stroke-width="0.5"/>
<line x1="411.79" y1="337.3" x2="411.79" y2="336" stroke="#4d4d4d" stroke-width="0.5"/>
<line x1="412.93" y1="337.3" x2="412.93" y2="336" stroke="#4d4d4d" stroke-width="0.5"/>
<line x1="413.91" y1="337.3" x2="413.91" y2="336" stroke="#4d4d4d" stroke-width="0.5"/>
<line x1="414.78" y1="337.3" x2="414.78" y2="336" stroke="#4d4d4d" stroke-width="0.5"/>
<text x="398.08" y="349.6" font-size="8.6" text-anchor="middle" fill="#1a1a1a">10<tspan dy="-3.8" font-size="6.6">-2</tspan></text>
<line x1="415.56" y1="337.3" x2="415.56" y2="334.9" stroke="#4d4d4d" stroke-width="0.7"/>
<line x1="420.67" y1="337.3" x2="420.67" y2="336" stroke="#4d4d4d" stroke-width="0.5"/>
<line x1="423.66" y1="337.3" x2="423.66" y2="336" stroke="#4d4d4d" stroke-width="0.5"/>
<line x1="425.78" y1="337.3" x2="425.78" y2="336" stroke="#4d4d4d" stroke-width="0.5"/>
<line x1="427.43" y1="337.3" x2="427.43" y2="336" stroke="#4d4d4d" stroke-width="0.5"/>
<line x1="428.77" y1="337.3" x2="428.77" y2="336" stroke="#4d4d4d" stroke-width="0.5"/>
<line x1="429.91" y1="337.3" x2="429.91" y2="336" stroke="#4d4d4d" stroke-width="0.5"/>
<line x1="430.89" y1="337.3" x2="430.89" y2="336" stroke="#4d4d4d" stroke-width="0.5"/>
<line x1="431.76" y1="337.3" x2="431.76" y2="336" stroke="#4d4d4d" stroke-width="0.5"/>
<text x="415.06" y="349.6" font-size="8.6" text-anchor="middle" fill="#1a1a1a">10<tspan dy="-3.8" font-size="6.6">-1</tspan></text>
<line x1="432.54" y1="337.3" x2="432.54" y2="334.9" stroke="#4d4d4d" stroke-width="0.7"/>
<line x1="437.65" y1="337.3" x2="437.65" y2="336" stroke="#4d4d4d" stroke-width="0.5"/>
<line x1="440.64" y1="337.3" x2="440.64" y2="336" stroke="#4d4d4d" stroke-width="0.5"/>
<line x1="442.76" y1="337.3" x2="442.76" y2="336" stroke="#4d4d4d" stroke-width="0.5"/>
<line x1="444.41" y1="337.3" x2="444.41" y2="336" stroke="#4d4d4d" stroke-width="0.5"/>
<line x1="445.75" y1="337.3" x2="445.75" y2="336" stroke="#4d4d4d" stroke-width="0.5"/>
<line x1="446.89" y1="337.3" x2="446.89" y2="336" stroke="#4d4d4d" stroke-width="0.5"/>
<line x1="447.87" y1="337.3" x2="447.87" y2="336" stroke="#4d4d4d" stroke-width="0.5"/>
<line x1="448.74" y1="337.3" x2="448.74" y2="336" stroke="#4d4d4d" stroke-width="0.5"/>
<text x="432.04" y="349.6" font-size="8.6" text-anchor="middle" fill="#1a1a1a">10<tspan dy="-3.8" font-size="6.6">0</tspan></text>
<line x1="449.52" y1="337.3" x2="449.52" y2="334.9" stroke="#4d4d4d" stroke-width="0.7"/>
<line x1="454.63" y1="337.3" x2="454.63" y2="336" stroke="#4d4d4d" stroke-width="0.5"/>
<line x1="457.62" y1="337.3" x2="457.62" y2="336" stroke="#4d4d4d" stroke-width="0.5"/>
<line x1="459.74" y1="337.3" x2="459.74" y2="336" stroke="#4d4d4d" stroke-width="0.5"/>
<line x1="461.39" y1="337.3" x2="461.39" y2="336" stroke="#4d4d4d" stroke-width="0.5"/>
<line x1="462.73" y1="337.3" x2="462.73" y2="336" stroke="#4d4d4d" stroke-width="0.5"/>
<line x1="463.87" y1="337.3" x2="463.87" y2="336" stroke="#4d4d4d" stroke-width="0.5"/>
<line x1="464.85" y1="337.3" x2="464.85" y2="336" stroke="#4d4d4d" stroke-width="0.5"/>
<line x1="465.72" y1="337.3" x2="465.72" y2="336" stroke="#4d4d4d" stroke-width="0.5"/>
<text x="449.02" y="349.6" font-size="8.6" text-anchor="middle" fill="#1a1a1a">10<tspan dy="-3.8" font-size="6.6">1</tspan></text>
<line x1="466.5" y1="337.3" x2="466.5" y2="334.9" stroke="#4d4d4d" stroke-width="0.7"/>
<line x1="471.61" y1="337.3" x2="471.61" y2="336" stroke="#4d4d4d" stroke-width="0.5"/>
<line x1="474.6" y1="337.3" x2="474.6" y2="336" stroke="#4d4d4d" stroke-width="0.5"/>
<line x1="476.72" y1="337.3" x2="476.72" y2="336" stroke="#4d4d4d" stroke-width="0.5"/>
<line x1="478.37" y1="337.3" x2="478.37" y2="336" stroke="#4d4d4d" stroke-width="0.5"/>
<line x1="479.71" y1="337.3" x2="479.71" y2="336" stroke="#4d4d4d" stroke-width="0.5"/>
<line x1="480.85" y1="337.3" x2="480.85" y2="336" stroke="#4d4d4d" stroke-width="0.5"/>
<line x1="481.83" y1="337.3" x2="481.83" y2="336" stroke="#4d4d4d" stroke-width="0.5"/>
<line x1="482.7" y1="337.3" x2="482.7" y2="336" stroke="#4d4d4d" stroke-width="0.5"/>
<text x="466" y="349.6" font-size="8.6" text-anchor="middle" fill="#1a1a1a">10<tspan dy="-3.8" font-size="6.6">2</tspan></text>
<line x1="483.48" y1="337.3" x2="483.48" y2="334.9" stroke="#4d4d4d" stroke-width="0.7"/>
<line x1="488.59" y1="337.3" x2="488.59" y2="336" stroke="#4d4d4d" stroke-width="0.5"/>
<line x1="491.58" y1="337.3" x2="491.58" y2="336" stroke="#4d4d4d" stroke-width="0.5"/>
<line x1="493.7" y1="337.3" x2="493.7" y2="336" stroke="#4d4d4d" stroke-width="0.5"/>
<line x1="495.35" y1="337.3" x2="495.35" y2="336" stroke="#4d4d4d" stroke-width="0.5"/>
<line x1="496.69" y1="337.3" x2="496.69" y2="336" stroke="#4d4d4d" stroke-width="0.5"/>
<line x1="497.83" y1="337.3" x2="497.83" y2="336" stroke="#4d4d4d" stroke-width="0.5"/>
<line x1="498.81" y1="337.3" x2="498.81" y2="336" stroke="#4d4d4d" stroke-width="0.5"/>
<line x1="499.68" y1="337.3" x2="499.68" y2="336" stroke="#4d4d4d" stroke-width="0.5"/>
<text x="482.98" y="349.6" font-size="8.6" text-anchor="middle" fill="#1a1a1a">10<tspan dy="-3.8" font-size="6.6">3</tspan></text>
<line x1="500.46" y1="337.3" x2="500.46" y2="334.9" stroke="#4d4d4d" stroke-width="0.7"/>
<text x="499.96" y="349.6" font-size="8.6" text-anchor="middle" fill="#1a1a1a">10<tspan dy="-3.8" font-size="6.6">4</tspan></text>
<text x="441.5" y="364.5" font-size="11" text-anchor="middle" fill="#1a1a1a">Time (ms)</text>
<text x="517.3" y="208.8" font-size="15" text-anchor="start" fill="#111">f</text>
<defs>
<radialGradient id="ball" cx="0.4" cy="0.34" r="0.68" fx="0.36" fy="0.3"><stop offset="0" stop-color="#ffffff"/><stop offset="0.22" stop-color="#b4e2ca"/><stop offset="0.5" stop-color="#4aa878"/><stop offset="1" stop-color="#2a7c54"/></radialGradient>
<radialGradient id="bballj" cx="0.4" cy="0.34" r="0.68" fx="0.36" fy="0.3"><stop offset="0" stop-color="#ffffff"/><stop offset="0.22" stop-color="#b0d2f0"/><stop offset="0.5" stop-color="#4686c4"/><stop offset="1" stop-color="#2a609a"/></radialGradient>
</defs>
<path d="M564.1,241 L600.1,248.7 L636.1,322.6" fill="none" stroke="#45a070" stroke-width="1.1" stroke-linejoin="round" stroke-linecap="round"/>
<path d="M564.1,324.1 L600.1,323.2 L636.1,250.1" fill="none" stroke="#6868f6" stroke-width="1.1" stroke-linejoin="round" stroke-linecap="round"/>
<path d="M564.1,318.7 L569.5,324.1 L564.1,329.5 L558.7,324.1 Z" fill="#6262f6"/>
<path d="M600.1,317.8 L605.5,323.2 L600.1,328.6 L594.7,323.2 Z" fill="#6262f6"/>
<path d="M636.1,244.7 L641.5,250.1 L636.1,255.5 L630.7,250.1 Z" fill="#6262f6"/>
<circle cx="564.1" cy="241" r="4.6" fill="url(#ball)"/>
<circle cx="600.1" cy="248.7" r="4.6" fill="url(#ball)"/>
<circle cx="636.1" cy="322.6" r="4.6" fill="url(#ball)"/>
<line x1="608" y1="218" x2="612.6" y2="218" stroke="#6cc09a" stroke-width="1.1"/>
<line x1="623.6" y1="218" x2="627.8" y2="218" stroke="#6cc09a" stroke-width="1.1"/>
<circle cx="618.1" cy="218" r="4.4" fill="url(#ball)"/>
<line x1="608" y1="229.9" x2="627.8" y2="229.9" stroke="#6868f6" stroke-width="1"/>
<path d="M618.1,224.8 L623.2,229.9 L618.1,235 L613,229.9 Z" fill="#6262f6"/>
<text x="630" y="222.6" font-size="8.5" text-anchor="start" fill="#1a1a1a">T<tspan dy="2.5" font-size="6">2</tspan></text>
<text x="630" y="232.6" font-size="8.5" text-anchor="start" fill="#1a1a1a">&#964;<tspan dy="2.5" font-size="6">c</tspan></text>
<line x1="546.4" y1="206.4" x2="653.9" y2="206.4" stroke="#555" stroke-width="0.8"/>
<line x1="546.4" y1="336.2" x2="653.9" y2="336.2" stroke="#555" stroke-width="0.8"/>
<line x1="546.4" y1="206.4" x2="546.4" y2="336.2" stroke="#5bae86" stroke-width="0.9"/>
<line x1="653.9" y1="206.4" x2="653.9" y2="336.2" stroke="#9a9af8" stroke-width="0.9"/>
<line x1="546.4" y1="336.3" x2="544.2" y2="336.3" stroke="#5bae86" stroke-width="0.8"/>
<text x="542.3" y="339.3" font-size="8.5" text-anchor="end" fill="#5bae86">0</text>
<line x1="546.4" y1="325.48" x2="545" y2="325.48" stroke="#5bae86" stroke-width="0.8"/>
<line x1="546.4" y1="314.65" x2="544.2" y2="314.65" stroke="#5bae86" stroke-width="0.8"/>
<text x="542.3" y="317.65" font-size="8.5" text-anchor="end" fill="#5bae86">10</text>
<line x1="546.4" y1="303.82" x2="545" y2="303.82" stroke="#5bae86" stroke-width="0.8"/>
<line x1="546.4" y1="293" x2="544.2" y2="293" stroke="#5bae86" stroke-width="0.8"/>
<text x="542.3" y="296" font-size="8.5" text-anchor="end" fill="#5bae86">20</text>
<line x1="546.4" y1="282.18" x2="545" y2="282.18" stroke="#5bae86" stroke-width="0.8"/>
<line x1="546.4" y1="271.35" x2="544.2" y2="271.35" stroke="#5bae86" stroke-width="0.8"/>
<text x="542.3" y="274.35" font-size="8.5" text-anchor="end" fill="#5bae86">30</text>
<line x1="546.4" y1="260.52" x2="545" y2="260.52" stroke="#5bae86" stroke-width="0.8"/>
<line x1="546.4" y1="249.7" x2="544.2" y2="249.7" stroke="#5bae86" stroke-width="0.8"/>
<text x="542.3" y="252.7" font-size="8.5" text-anchor="end" fill="#5bae86">40</text>
<line x1="546.4" y1="238.88" x2="545" y2="238.88" stroke="#5bae86" stroke-width="0.8"/>
<line x1="546.4" y1="228.05" x2="544.2" y2="228.05" stroke="#5bae86" stroke-width="0.8"/>
<text x="542.3" y="231.05" font-size="8.5" text-anchor="end" fill="#5bae86">50</text>
<line x1="546.4" y1="217.23" x2="545" y2="217.23" stroke="#5bae86" stroke-width="0.8"/>
<line x1="546.4" y1="206.4" x2="544.2" y2="206.4" stroke="#5bae86" stroke-width="0.8"/>
<text x="542.3" y="209.4" font-size="8.5" text-anchor="end" fill="#5bae86">60</text>
<line x1="653.9" y1="336.3" x2="656.1" y2="336.3" stroke="#9a9af8" stroke-width="0.8"/>
<line x1="653.9" y1="325.48" x2="655.3" y2="325.48" stroke="#9a9af8" stroke-width="0.8"/>
<text x="657.6" y="339.3" font-size="8.5" text-anchor="start" fill="#7070f0">0</text>
<line x1="653.9" y1="314.65" x2="656.1" y2="314.65" stroke="#9a9af8" stroke-width="0.8"/>
<line x1="653.9" y1="303.82" x2="655.3" y2="303.82" stroke="#9a9af8" stroke-width="0.8"/>
<text x="657.6" y="317.65" font-size="8.5" text-anchor="start" fill="#7070f0">5</text>
<line x1="653.9" y1="293" x2="656.1" y2="293" stroke="#9a9af8" stroke-width="0.8"/>
<line x1="653.9" y1="282.18" x2="655.3" y2="282.18" stroke="#9a9af8" stroke-width="0.8"/>
<text x="657.6" y="296" font-size="8.5" text-anchor="start" fill="#7070f0">10</text>
<line x1="653.9" y1="271.35" x2="656.1" y2="271.35" stroke="#9a9af8" stroke-width="0.8"/>
<line x1="653.9" y1="260.52" x2="655.3" y2="260.52" stroke="#9a9af8" stroke-width="0.8"/>
<text x="657.6" y="274.35" font-size="8.5" text-anchor="start" fill="#7070f0">15</text>
<line x1="653.9" y1="249.7" x2="656.1" y2="249.7" stroke="#9a9af8" stroke-width="0.8"/>
<line x1="653.9" y1="238.88" x2="655.3" y2="238.88" stroke="#9a9af8" stroke-width="0.8"/>
<text x="657.6" y="252.7" font-size="8.5" text-anchor="start" fill="#7070f0">20</text>
<line x1="653.9" y1="228.05" x2="656.1" y2="228.05" stroke="#9a9af8" stroke-width="0.8"/>
<line x1="653.9" y1="217.23" x2="655.3" y2="217.23" stroke="#9a9af8" stroke-width="0.8"/>
<text x="657.6" y="231.05" font-size="8.5" text-anchor="start" fill="#7070f0">25</text>
<line x1="653.9" y1="206.4" x2="656.1" y2="206.4" stroke="#9a9af8" stroke-width="0.8"/>
<text x="657.6" y="209.4" font-size="8.5" text-anchor="start" fill="#7070f0">30</text>
<line x1="564.1" y1="336.2" x2="564.1" y2="338.4" stroke="#555" stroke-width="0.8"/>
<line x1="600.1" y1="336.2" x2="600.1" y2="338.4" stroke="#555" stroke-width="0.8"/>
<line x1="636.1" y1="336.2" x2="636.1" y2="338.4" stroke="#555" stroke-width="0.8"/>
<text x="564.5" y="347.1" font-size="8.5" text-anchor="middle" fill="#1a1a1a">PVA</text>
<text x="600.1" y="347.1" font-size="8.5" text-anchor="middle" fill="#1a1a1a">PVA-CA</text>
<text x="636.1" y="347.1" font-size="8.5" text-anchor="middle" fill="#1a1a1a">PVA-CDs</text>
<text x="525" y="271.5" font-size="11" text-anchor="middle" fill="#3aa03a" transform="rotate(-90 525 271.5)">T<tspan dy="2.8" font-size="7.5">2</tspan><tspan dy="-2.8"> (ms)</tspan></text>
<text x="679.3" y="270" font-size="11" text-anchor="middle" fill="#7070f0" transform="rotate(-90 679.3 270)">&#964;<tspan dy="2.8" font-size="7.5">c</tspan><tspan dy="-2.8"> (ns)</tspan></text>
<text x="2.2" y="382.5" font-size="15" text-anchor="start" fill="#111">g</text>
<path d="M23.6,432.5 C26.33,432.88 34.75,433.88 40,434.8 C45.25,435.72 50.12,436.55 55.1,438 C60.08,439.45 66.58,441.92 69.9,443.5 C73.22,445.08 73.63,446.32 75,447.5 C76.37,448.68 77.18,450.13 78.1,450.6 C79.02,451.07 79.68,451.32 80.5,450.3 C81.32,449.28 82.17,446.48 83,444.5 C83.83,442.52 84.17,440.03 85.5,438.4 C86.83,436.77 88.58,435.35 91,434.7 C93.42,434.05 95.7,434.5 100,434.5 C104.3,434.5 107.57,434.42 116.8,434.7 C126.03,434.98 148.97,435.95 155.4,436.2" fill="none" stroke="#4f86dc" stroke-width="1.05" stroke-linejoin="round" stroke-linecap="round"/>
<path d="M23.6,451.2 C26.33,451.42 34.83,451.87 40,452.5 C45.17,453.13 50.43,454 54.6,455 C58.77,456 61.95,457.13 65,458.5 C68.05,459.87 70.57,461.53 72.9,463.2 C75.23,464.87 77.05,466.75 79,468.5 C80.95,470.25 83.18,473.62 84.6,473.7 C86.02,473.78 86.43,470.9 87.5,469 C88.57,467.1 89.83,464.3 91,462.3 C92.17,460.3 93.27,458.47 94.5,457 C95.73,455.53 95.82,454.13 98.4,453.5 C100.98,452.87 105.4,453.27 110,453.2 C114.6,453.13 118.43,452.82 126,453.1 C133.57,453.38 150.5,454.6 155.4,454.9" fill="none" stroke="#e45050" stroke-width="1.05" stroke-linejoin="round" stroke-linecap="round"/>
<path d="M23.6,475.2 C26.33,475.47 34.17,476.15 40,476.8 C45.83,477.45 54.27,478.4 58.6,479.1 C62.93,479.8 63.85,480.37 66,481 C68.15,481.63 70,482.15 71.5,482.9 C73,483.65 73.93,484.42 75,485.5 C76.07,486.58 76.98,487.98 77.9,489.4 C78.82,490.82 79.65,492.5 80.5,494 C81.35,495.5 82.15,497.23 83,498.4 C83.85,499.57 84.85,500.85 85.6,501 C86.35,501.15 86.93,499.65 87.5,499.3 C88.07,498.95 88.42,498.85 89,498.9 C89.58,498.95 90.28,499.47 91,499.6 C91.72,499.73 92.68,500.13 93.3,499.7 C93.92,499.27 94.27,498.08 94.7,497 C95.13,495.92 95.38,494.78 95.9,493.2 C96.42,491.62 97.15,489.22 97.8,487.5 C98.45,485.78 99.15,484.23 99.8,482.9 C100.45,481.57 101.07,480.27 101.7,479.5 C102.33,478.73 102.55,478.63 103.6,478.3 C104.65,477.97 106.5,477.67 108,477.5 C109.5,477.33 104.7,477.03 112.6,477.3 C120.5,477.57 148.27,478.8 155.4,479.1" fill="none" stroke="#4a4a4a" stroke-width="1" stroke-linejoin="round" stroke-linecap="round"/>
<text x="82.4" y="456.3" font-size="8.5" text-anchor="start" fill="#1a1a1a">-2.8</text>
<text x="87.6" y="477.8" font-size="8.5" text-anchor="start" fill="#1a1a1a">1.98</text>
<text x="92.8" y="507.8" font-size="8.5" text-anchor="start" fill="#1a1a1a">2.18</text>
<line x1="30.3" y1="393" x2="47.4" y2="393" stroke="#4f86dc" stroke-width="0.9"/>
<text x="50" y="396.1" font-size="8.5" text-anchor="start" fill="#1a1a1a">PVA-CDs</text>
<line x1="30.3" y1="402.8" x2="47.4" y2="402.8" stroke="#e45050" stroke-width="0.9"/>
<text x="50" y="405.9" font-size="8.5" text-anchor="start" fill="#1a1a1a">PVA-CA</text>
<line x1="30.3" y1="412.6" x2="47.4" y2="412.6" stroke="#4a4a4a" stroke-width="0.9"/>
<text x="50" y="415.7" font-size="8.5" text-anchor="start" fill="#1a1a1a">PVA</text>
<rect x="23.6" y="384.3" width="131.8" height="126.6" fill="none" stroke="#4d4d4d" stroke-width="0.8"/>
<line x1="23.6" y1="510.9" x2="23.6" y2="513.1" stroke="#4d4d4d" stroke-width="0.7"/>
<text x="23.6" y="522.4" font-size="8.5" text-anchor="middle" fill="#1a1a1a">-40</text>
<line x1="38.17" y1="510.9" x2="38.17" y2="512.3" stroke="#4d4d4d" stroke-width="0.7"/>
<line x1="52.75" y1="510.9" x2="52.75" y2="513.1" stroke="#4d4d4d" stroke-width="0.7"/>
<text x="52.75" y="522.4" font-size="8.5" text-anchor="middle" fill="#1a1a1a">-20</text>
<line x1="67.33" y1="510.9" x2="67.33" y2="512.3" stroke="#4d4d4d" stroke-width="0.7"/>
<line x1="81.9" y1="510.9" x2="81.9" y2="513.1" stroke="#4d4d4d" stroke-width="0.7"/>
<text x="81.9" y="522.4" font-size="8.5" text-anchor="middle" fill="#1a1a1a">0</text>
<line x1="96.47" y1="510.9" x2="96.47" y2="512.3" stroke="#4d4d4d" stroke-width="0.7"/>
<line x1="111.05" y1="510.9" x2="111.05" y2="513.1" stroke="#4d4d4d" stroke-width="0.7"/>
<text x="111.05" y="522.4" font-size="8.5" text-anchor="middle" fill="#1a1a1a">20</text>
<line x1="125.62" y1="510.9" x2="125.62" y2="512.3" stroke="#4d4d4d" stroke-width="0.7"/>
<line x1="140.2" y1="510.9" x2="140.2" y2="513.1" stroke="#4d4d4d" stroke-width="0.7"/>
<text x="140.2" y="522.4" font-size="8.5" text-anchor="middle" fill="#1a1a1a">40</text>
<line x1="154.78" y1="510.9" x2="154.78" y2="512.3" stroke="#4d4d4d" stroke-width="0.7"/>
<text x="89.8" y="534.5" font-size="10.4" text-anchor="middle" fill="#1a1a1a">Temperature (&#176;C)</text>
<text x="15.8" y="447.9" font-size="10.3" text-anchor="middle" fill="#1a1a1a" transform="rotate(-90 15.8 447.9)">Heat flux (Endotherm)</text>
<text x="168.6" y="384.7" font-size="15" text-anchor="start" fill="#111">h</text>
<path d="M221,474 L264.7,465.6 L308.5,424.2" fill="none" stroke="#45a070" stroke-width="1.1" stroke-linejoin="round" stroke-linecap="round"/>
<path d="M221,447.7 L264.7,440.2 L308.5,403.1" fill="none" stroke="#6868f6" stroke-width="1.1" stroke-linejoin="round" stroke-linecap="round"/>
<path d="M221,442.3 L226.4,447.7 L221,453.1 L215.6,447.7 Z" fill="#6262f6"/>
<path d="M264.7,434.8 L270.1,440.2 L264.7,445.6 L259.3,440.2 Z" fill="#6262f6"/>
<path d="M308.5,397.7 L313.9,403.1 L308.5,408.5 L303.1,403.1 Z" fill="#6262f6"/>
<circle cx="221" cy="474" r="4.6" fill="url(#ball)"/>
<circle cx="264.7" cy="465.6" r="4.6" fill="url(#ball)"/>
<circle cx="308.5" cy="424.2" r="4.6" fill="url(#ball)"/>
<line x1="210" y1="492.4" x2="214.2" y2="492.4" stroke="#6cc09a" stroke-width="1.1"/>
<line x1="224.2" y1="492.4" x2="228.9" y2="492.4" stroke="#6cc09a" stroke-width="1.1"/>
<circle cx="219.2" cy="492.4" r="4.4" fill="url(#ball)"/>
<line x1="210" y1="504" x2="228.9" y2="504" stroke="#6868f6" stroke-width="1"/>
<path d="M219.2,498.9 L224.3,504 L219.2,509.1 L214.1,504 Z" fill="#6262f6"/>
<text x="230.8" y="496" font-size="8.5" text-anchor="start" fill="#1a1a1a">&#916;H<tspan dy="2" font-size="6">f</tspan></text>
<text x="233.5" y="507.6" font-size="8.5" text-anchor="start" fill="#1a1a1a">Degree of crystallinity</text>
<line x1="199" y1="387.5" x2="330.6" y2="387.5" stroke="#555" stroke-width="0.8"/>
<line x1="199" y1="511.2" x2="330.6" y2="511.2" stroke="#555" stroke-width="0.8"/>
<line x1="199" y1="387.5" x2="199" y2="511.2" stroke="#5bae86" stroke-width="0.9"/>
<line x1="330.6" y1="387.5" x2="330.6" y2="511.2" stroke="#9a9af8" stroke-width="0.9"/>
<line x1="199" y1="512" x2="196.8" y2="512" stroke="#5bae86" stroke-width="0.8"/>
<text x="194.9" y="515" font-size="8.5" text-anchor="end" fill="#5bae86">10</text>
<line x1="199" y1="494.1" x2="197.6" y2="494.1" stroke="#5bae86" stroke-width="0.8"/>
<line x1="199" y1="476.2" x2="196.8" y2="476.2" stroke="#5bae86" stroke-width="0.8"/>
<text x="194.9" y="479.2" font-size="8.5" text-anchor="end" fill="#5bae86">20</text>
<line x1="199" y1="458.3" x2="197.6" y2="458.3" stroke="#5bae86" stroke-width="0.8"/>
<line x1="199" y1="440.4" x2="196.8" y2="440.4" stroke="#5bae86" stroke-width="0.8"/>
<text x="194.9" y="443.4" font-size="8.5" text-anchor="end" fill="#5bae86">30</text>
<line x1="199" y1="422.5" x2="197.6" y2="422.5" stroke="#5bae86" stroke-width="0.8"/>
<line x1="199" y1="404.6" x2="196.8" y2="404.6" stroke="#5bae86" stroke-width="0.8"/>
<text x="194.9" y="407.6" font-size="8.5" text-anchor="end" fill="#5bae86">40</text>
<line x1="330.6" y1="510.5" x2="332.8" y2="510.5" stroke="#9a9af8" stroke-width="0.8"/>
<line x1="330.6" y1="500.25" x2="332" y2="500.25" stroke="#9a9af8" stroke-width="0.8"/>
<text x="334.6" y="513.5" font-size="8.5" text-anchor="start" fill="#7070f0">0</text>
<line x1="330.6" y1="490" x2="332.8" y2="490" stroke="#9a9af8" stroke-width="0.8"/>
<line x1="330.6" y1="479.75" x2="332" y2="479.75" stroke="#9a9af8" stroke-width="0.8"/>
<text x="334.6" y="493" font-size="8.5" text-anchor="start" fill="#7070f0">5</text>
<line x1="330.6" y1="469.5" x2="332.8" y2="469.5" stroke="#9a9af8" stroke-width="0.8"/>
<line x1="330.6" y1="459.25" x2="332" y2="459.25" stroke="#9a9af8" stroke-width="0.8"/>
<text x="334.6" y="472.5" font-size="8.5" text-anchor="start" fill="#7070f0">10</text>
<line x1="330.6" y1="449" x2="332.8" y2="449" stroke="#9a9af8" stroke-width="0.8"/>
<line x1="330.6" y1="438.75" x2="332" y2="438.75" stroke="#9a9af8" stroke-width="0.8"/>
<text x="334.6" y="452" font-size="8.5" text-anchor="start" fill="#7070f0">15</text>
<line x1="330.6" y1="428.5" x2="332.8" y2="428.5" stroke="#9a9af8" stroke-width="0.8"/>
<line x1="330.6" y1="418.25" x2="332" y2="418.25" stroke="#9a9af8" stroke-width="0.8"/>
<text x="334.6" y="431.5" font-size="8.5" text-anchor="start" fill="#7070f0">20</text>
<line x1="330.6" y1="408" x2="332.8" y2="408" stroke="#9a9af8" stroke-width="0.8"/>
<line x1="330.6" y1="397.75" x2="332" y2="397.75" stroke="#9a9af8" stroke-width="0.8"/>
<text x="334.6" y="411" font-size="8.5" text-anchor="start" fill="#7070f0">25</text>
<line x1="330.6" y1="387.5" x2="332.8" y2="387.5" stroke="#9a9af8" stroke-width="0.8"/>
<text x="334.6" y="390.5" font-size="8.5" text-anchor="start" fill="#7070f0">30</text>
<line x1="221" y1="511.2" x2="221" y2="513.4" stroke="#555" stroke-width="0.8"/>
<line x1="264.7" y1="511.2" x2="264.7" y2="513.4" stroke="#555" stroke-width="0.8"/>
<line x1="308.5" y1="511.2" x2="308.5" y2="513.4" stroke="#555" stroke-width="0.8"/>
<text x="219.5" y="527.2" font-size="8.5" text-anchor="middle" fill="#1a1a1a" transform="rotate(-16 219.5 527.2)">PVA</text>
<text x="263.5" y="527.6" font-size="8.5" text-anchor="middle" fill="#1a1a1a" transform="rotate(-16 263.5 527.6)">PVA-CA</text>
<text x="307" y="527.8" font-size="8.5" text-anchor="middle" fill="#1a1a1a" transform="rotate(-16 307 527.8)">PVA-CDs</text>
<text x="179.8" y="449" font-size="11" text-anchor="middle" fill="#3aa03a" transform="rotate(-90 179.8 449)">&#916;H<tspan dy="2.5" font-size="7.5">f</tspan><tspan dy="-2.5"> (J g</tspan><tspan dy="-4" font-size="7.5">-1</tspan><tspan dy="4">)</tspan></text>
<text x="354.8" y="447.6" font-size="10.7" text-anchor="middle" fill="#7070f0" transform="rotate(-90 354.8 447.6)">Degree of crystallinity (%)</text>
<text x="368.5" y="384.7" font-size="15" text-anchor="start" fill="#111">i</text>
<path d="M390.5,455.6 C393.75,455.47 404.4,455.2 410,454.8 C415.6,454.4 420.52,454.13 424.1,453.2 C427.68,452.27 429.05,451.4 431.5,449.2 C433.95,447 436.88,442.45 438.8,440 C440.72,437.55 441.73,435.62 443,434.5 C444.27,433.38 445.23,433.3 446.4,433.3 C447.57,433.3 448,433.27 450,434.5 C452,435.73 455.73,438.95 458.4,440.7 C461.07,442.45 462.93,443.78 466,445 C469.07,446.22 472.8,447.3 476.8,448 C480.8,448.7 485.1,448.95 490,449.2 C494.9,449.45 503.5,449.45 506.2,449.5" fill="none" stroke="#e84848" stroke-width="1.05" stroke-linejoin="round" stroke-linecap="round"/>
<path d="M390.5,482.6 C393.75,482.53 404.4,482.4 410,482.2 C415.6,482 420.68,482.3 424.1,481.4 C427.52,480.5 428.05,479.72 430.5,476.8 C432.95,473.88 436.25,466.82 438.8,463.9 C441.35,460.98 443.35,459.15 445.8,459.3 C448.25,459.45 450.68,462.2 453.5,464.8 C456.32,467.4 459.95,472.98 462.7,474.9 C465.45,476.82 467.12,475.98 470,476.3 C472.88,476.62 473.97,476.47 480,476.8 C486.03,477.13 501.83,478.05 506.2,478.3" fill="none" stroke="#44aa44" stroke-width="1.05" stroke-linejoin="round" stroke-linecap="round"/>
<path d="M390.5,509.9 C392.92,509.75 400.62,509.47 405,509 C409.38,508.53 413.3,508.8 416.8,507.1 C420.3,505.4 423.63,501.4 426,498.8 C428.37,496.2 429.48,493.4 431,491.5 C432.52,489.6 433.77,487.9 435.1,487.4 C436.43,486.9 437.47,487.52 439,488.5 C440.53,489.48 441.88,491.52 444.3,493.3 C446.72,495.08 450.05,497.92 453.5,499.2 C456.95,500.48 460.58,500.52 465,501 C469.42,501.48 473.13,501.73 480,502.1 C486.87,502.47 501.83,503.02 506.2,503.2" fill="none" stroke="#555555" stroke-width="1" stroke-linejoin="round" stroke-linecap="round"/>
<text x="452" y="436.1" font-size="8.5" text-anchor="start" fill="#1a1a1a">0.142</text>
<text x="450.8" y="462.4" font-size="8.5" text-anchor="start" fill="#1a1a1a">0.139</text>
<text x="437.4" y="488.7" font-size="8.5" text-anchor="start" fill="#1a1a1a">0.120</text>
<rect x="395.1" y="394.4" width="60.2" height="32.4" fill="#000" stroke="none" stroke-width="1"/>
<rect x="393.1" y="392.4" width="60" height="32.3" fill="#fff" stroke="#666" stroke-width="0.7"/>
<line x1="394.6" y1="398.5" x2="413.3" y2="398.5" stroke="#4a4a4a" stroke-width="0.9"/>
<text x="415.5" y="401.5" font-size="8.5" text-anchor="start" fill="#1a1a1a">PVA</text>
<line x1="394.6" y1="408.6" x2="413.3" y2="408.6" stroke="#4aa84a" stroke-width="0.9"/>
<text x="415.5" y="411.6" font-size="8.5" text-anchor="start" fill="#1a1a1a">PVA-CA</text>
<line x1="394.6" y1="418.7" x2="413.3" y2="418.7" stroke="#e45050" stroke-width="0.9"/>
<text x="415.5" y="421.7" font-size="8.5" text-anchor="start" fill="#1a1a1a">PVA-CDs</text>
<rect x="390.4" y="386.6" width="115.8" height="128.8" fill="none" stroke="#4d4d4d" stroke-width="0.8"/>
<line x1="400.2" y1="515.4" x2="400.2" y2="517.6" stroke="#4d4d4d" stroke-width="0.7"/>
<line x1="412.85" y1="515.4" x2="412.85" y2="516.8" stroke="#4d4d4d" stroke-width="0.7"/>
<line x1="425.5" y1="515.4" x2="425.5" y2="517.6" stroke="#4d4d4d" stroke-width="0.7"/>
<line x1="438.15" y1="515.4" x2="438.15" y2="516.8" stroke="#4d4d4d" stroke-width="0.7"/>
<line x1="450.8" y1="515.4" x2="450.8" y2="517.6" stroke="#4d4d4d" stroke-width="0.7"/>
<line x1="463.45" y1="515.4" x2="463.45" y2="516.8" stroke="#4d4d4d" stroke-width="0.7"/>
<line x1="476.1" y1="515.4" x2="476.1" y2="517.6" stroke="#4d4d4d" stroke-width="0.7"/>
<line x1="488.75" y1="515.4" x2="488.75" y2="516.8" stroke="#4d4d4d" stroke-width="0.7"/>
<line x1="501.4" y1="515.4" x2="501.4" y2="517.6" stroke="#4d4d4d" stroke-width="0.7"/>
<text x="400.2" y="527.3" font-size="8.5" text-anchor="middle" fill="#1a1a1a">0.05</text>
<text x="425.5" y="527.3" font-size="8.5" text-anchor="middle" fill="#1a1a1a">0.10</text>
<text x="450.8" y="527.3" font-size="8.5" text-anchor="middle" fill="#1a1a1a">0.15</text>
<text x="476.1" y="527.3" font-size="8.5" text-anchor="middle" fill="#1a1a1a">0.20</text>
<text x="501.4" y="527.3" font-size="8.5" text-anchor="middle" fill="#1a1a1a">0.25</text>
<text x="449.8" y="539.6" font-size="11" text-anchor="middle" fill="#1a1a1a">q (&#197;<tspan dy="-4" font-size="7">-1</tspan><tspan dy="4">)</tspan></text>
<text x="383.5" y="450.5" font-size="11" text-anchor="middle" fill="#1a1a1a" transform="rotate(-90 383.5 450.5)">I(q) (arb. units)</text>
<text x="519.8" y="391.5" font-size="15" text-anchor="start" fill="#111">j</text>
<path d="M571.3,411.3 L609.1,455.7 L647.1,456.9" fill="none" stroke="#3a7ab8" stroke-width="1.1" stroke-linejoin="round" stroke-linecap="round"/>
<circle cx="571.3" cy="411.3" r="4.3" fill="url(#bballj)"/>
<circle cx="609.1" cy="455.7" r="4.3" fill="url(#bballj)"/>
<circle cx="647.1" cy="456.9" r="4.3" fill="url(#bballj)"/>
<rect x="552.3" y="386.4" width="114.1" height="129.1" fill="none" stroke="#4d4d4d" stroke-width="0.8"/>
<line x1="552.3" y1="514.65" x2="550.1" y2="514.65" stroke="#4d4d4d" stroke-width="0.7"/>
<text x="548.3" y="517.65" font-size="8.5" text-anchor="end" fill="#1a1a1a">3</text>
<line x1="552.3" y1="493.27" x2="550.9" y2="493.27" stroke="#4d4d4d" stroke-width="0.7"/>
<line x1="552.3" y1="471.9" x2="550.1" y2="471.9" stroke="#4d4d4d" stroke-width="0.7"/>
<text x="548.3" y="474.9" font-size="8.5" text-anchor="end" fill="#1a1a1a">4</text>
<line x1="552.3" y1="450.52" x2="550.9" y2="450.52" stroke="#4d4d4d" stroke-width="0.7"/>
<line x1="552.3" y1="429.15" x2="550.1" y2="429.15" stroke="#4d4d4d" stroke-width="0.7"/>
<text x="548.3" y="432.15" font-size="8.5" text-anchor="end" fill="#1a1a1a">5</text>
<line x1="552.3" y1="407.77" x2="550.9" y2="407.77" stroke="#4d4d4d" stroke-width="0.7"/>
<line x1="552.3" y1="386.4" x2="550.1" y2="386.4" stroke="#4d4d4d" stroke-width="0.7"/>
<text x="548.3" y="389.4" font-size="8.5" text-anchor="end" fill="#1a1a1a">6</text>
<line x1="571.3" y1="515.5" x2="571.3" y2="517.7" stroke="#4d4d4d" stroke-width="0.8"/>
<line x1="609.1" y1="515.5" x2="609.1" y2="517.7" stroke="#4d4d4d" stroke-width="0.8"/>
<line x1="647.1" y1="515.5" x2="647.1" y2="517.7" stroke="#4d4d4d" stroke-width="0.8"/>
<text x="563" y="530.5" font-size="8.5" text-anchor="middle" fill="#1a1a1a" transform="rotate(-12 563 530.5)">PVA</text>
<text x="601" y="530" font-size="8.5" text-anchor="middle" fill="#1a1a1a" transform="rotate(-12 601 530)">PVA-CA</text>
<text x="638.5" y="529.5" font-size="8.5" text-anchor="middle" fill="#1a1a1a" transform="rotate(-12 638.5 529.5)">PVA-CDs</text>
<text x="540.2" y="450" font-size="11" text-anchor="middle" fill="#1a1a1a" transform="rotate(-90 540.2 450)">Interplanar spacing (nm)</text>
</svg></body></html>
